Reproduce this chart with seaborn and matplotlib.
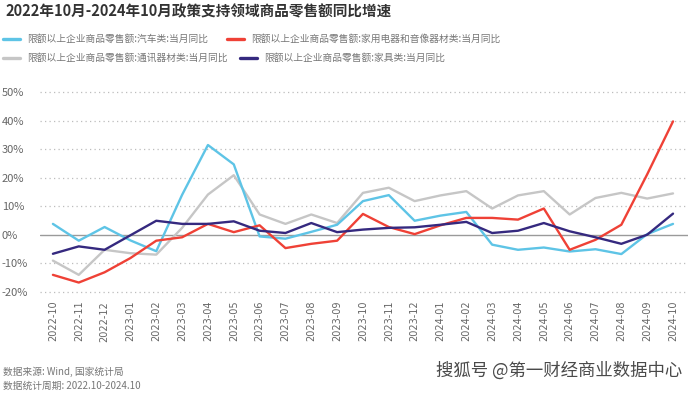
import matplotlib
matplotlib.use("Agg")
import matplotlib.pyplot as plt
import seaborn as sns
import pandas as pd

# monthly YoY growth (%) of retail sales
months = ["2022-10", "2022-11", "2022-12", "2023-01", "2023-02", "2023-03",
          "2023-04", "2023-05", "2023-06", "2023-07", "2023-08", "2023-09",
          "2023-10", "2023-11", "2023-12", "2024-01", "2024-02", "2024-03",
          "2024-04", "2024-05", "2024-06", "2024-07", "2024-08", "2024-09",
          "2024-10"]
auto = [3.8, -2.1, 2.7, -2.0, -5.8, 14.0, 31.5, 24.7, -0.6, -1.4, 1.0, 3.5,
        11.8, 13.9, 4.9, 6.7, 8.0, -3.5, -5.3, -4.5, -5.9, -5.1, -6.8, 0.2, 3.8]
appliance = [-14.1, -16.8, -13.2, -8.2, -2.1, -0.9, 3.8, 0.9, 3.3, -4.7, -3.2, -2.1,
             7.3, 2.7, 0.2, 3.3, 5.9, 5.9, 5.3, 9.2, -5.3, -1.8, 3.5, 21.2, 39.8]
telecom = [-9.1, -14.1, -5.3, -6.5, -7.0, 2.4, 14.1, 20.9, 7.1, 3.8, 7.1, 4.1,
           14.7, 16.5, 11.8, 13.8, 15.3, 9.2, 13.8, 15.3, 7.1, 12.9, 14.7, 12.7, 14.5]
furniture = [-6.7, -4.1, -5.3, -0.2, 4.9, 3.8, 3.8, 4.7, 1.4, 0.6, 4.1, 0.9,
             1.8, 2.4, 2.6, 3.5, 4.5, 0.6, 1.4, 4.1, 1.2, -0.9, -3.2, 0.0, 7.4]

names = ["限额以上企业商品零售额:汽车类:当月同比",
         "限额以上企业商品零售额:家用电器和音像器材类:当月同比",
         "限额以上企业商品零售额:通讯器材类:当月同比",
         "限额以上企业商品零售额:家具类:当月同比"]
colors = ["#5ec4e6", "#ef4136", "#c6c6c6", "#35297f"]
yticks = [-20, -10, 0, 10, 20, 30, 40, 50]

sns.set_style("white")
plt.rcParams["font.family"] = ["Noto Sans CJK SC", "DejaVu Sans"]

series = [auto, appliance, telecom, furniture]
rows = []
for name, vals in zip(names, series):
    for i, (m, v) in enumerate(zip(months, vals)):
        rows.append({"idx": i, "month": m, "value": v, "series": name})
df = pd.DataFrame(rows)

W, H = 690, 396
fig = plt.figure(figsize=(W / 100, H / 100), dpi=100)
ax = fig.add_axes([40 / W, (H - 294.5) / H, (688 - 40) / W, (294.5 - 89.5) / H])

# gridlines first, zero line solid
for t in yticks:
    if t == 0:
        ax.axhline(0, color="#9a9a9a", lw=1.0, zorder=1)
    else:
        ax.axhline(t, color="#bdbdbd", lw=0.9, ls=(0, (1, 2.6)), zorder=1)

draw_order = [names[2], names[0], names[1], names[3]]
palette = dict(zip(names, colors))
sns.lineplot(data=df, x="idx", y="value", hue="series", hue_order=draw_order,
             palette=palette, linewidth=1.7, legend=False, sort=False, ax=ax,
             zorder=3)
for ln in ax.get_lines():
    ln.set_solid_capstyle("round")
    ln.set_solid_joinstyle("round")

ax.set_xlim(-0.5, 24.58)
ax.set_ylim(-21, 51)
ax.set_xticks(range(len(months)))
ax.set_xticklabels(months, rotation=90, fontsize=7, color="#666666",
                   family=["DejaVu Sans"])
ax.set_yticks(yticks)
ax.set_yticklabels([f"{t}%" for t in yticks], fontsize=8, color="#666666")
for lab in ax.get_yticklabels():
    lab.set_ha("left")
ax.tick_params(axis="y", length=0, pad=27.4)
ax.tick_params(axis="x", length=0, pad=4.5)
ax.set_xlabel("")
ax.set_ylabel("")
sns.despine(ax=ax, left=True, bottom=True)

# title
fig.text(5 / W, 1 - 11 / H, "2022年10月-2024年10月政策支持领域商品零售额同比增速",
         fontsize=10.5, fontweight="bold", color="#333333", va="center", ha="left")

# legend entries, placed one by one like the reference
handles = {ln.get_color(): ln for ln in ax.get_lines()}
legend_pos = [(3, 39), (227, 39), (3, 58), (240, 58)]
for name, col, (lx, ly) in zip(names, colors, legend_pos):
    h = plt.Line2D([], [], color=col, lw=2.4)
    fig.legend([h], [name], loc="center left",
               bbox_to_anchor=(lx / W, 1 - ly / H), frameon=False,
               borderpad=0, borderaxespad=0, handlelength=1.75,
               handletextpad=0.7, fontsize=7, labelcolor="#777777")

# footer
fig.text(3 / W, 1 - 372 / H, "数据来源: Wind, 国家统计局", fontsize=7,
         color="#777777", va="center", ha="left")
fig.text(3 / W, 1 - 386 / H, "数据统计周期: 2022.10-2024.10", fontsize=7,
         color="#777777", va="center", ha="left")
fig.text(682 / W, 1 - 371 / H, "搜狐号 @第一财经商业数据中心", fontsize=12.5,
         color="#4a4a4a", va="center", ha="right")

fig.savefig("out.png", dpi=100, facecolor="white")
